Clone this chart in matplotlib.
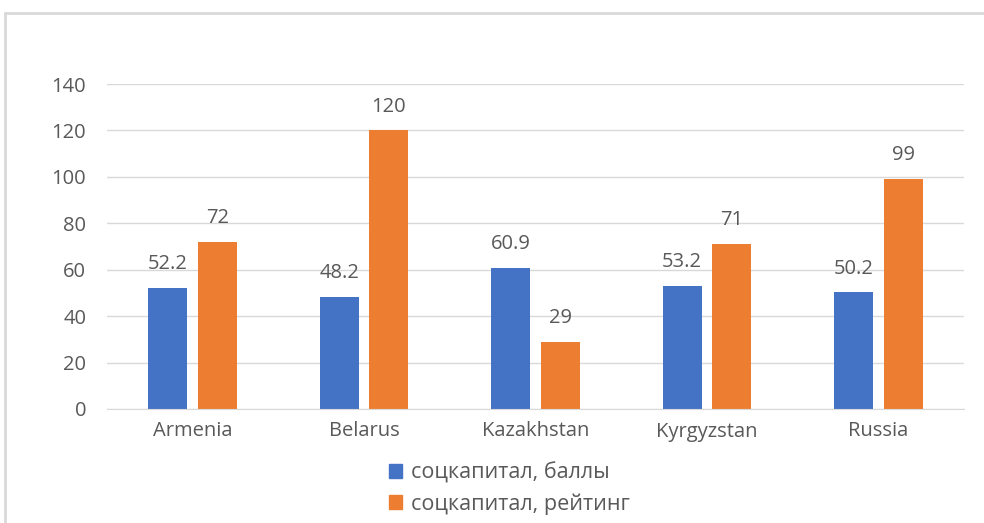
import numpy as np
import matplotlib.pyplot as plt
from matplotlib.patches import Rectangle, Patch

countries = ["Armenia", "Belarus", "Kazakhstan", "Kyrgyzstan", "Russia"]
scores = [52.2, 48.2, 60.9, 53.2, 50.2]
ranks = [72, 120, 29, 71, 99]
score_labels = ["52.2", "48.2", "60.9", "53.2", "50.2"]
rank_labels = ["72", "120", "29", "71", "99"]
series_names = ["соцкапитал, баллы", "соцкапитал, рейтинг"]

blue = "#4472C4"
orange = "#ED7D31"
gray = "#595959"
fs = 14.5

plt.rcParams['font.family'] = ['Open Sans', 'DejaVu Sans']

fig = plt.figure(figsize=(9.84, 5.23), dpi=100)
W, H = 984, 523
ax = fig.add_axes([107 / W, 1 - 409 / H, (964 - 107) / W, (409 - 84) / H])

x = np.arange(len(countries))
bw = 0.227
b1 = ax.bar(x - 0.145, scores, bw, color=blue)
b2 = ax.bar(x + 0.145, ranks, bw, color=orange)

for bars, labels in [(b1, score_labels), (b2, rank_labels)]:
    for rect, lab in zip(bars, labels):
        ax.annotate(lab, (rect.get_x() + rect.get_width() / 2, rect.get_height()),
                    xytext=(0, 10), textcoords="offset points", ha="center", va="bottom",
                    fontsize=fs, color=gray)

ax.set_xlim(-0.5, len(countries) - 0.5)
ax.set_ylim(0, 140)
ax.set_yticks(range(0, 141, 20))
ax.set_xticks(x)
ax.set_xticklabels(countries)
ax.tick_params(axis="both", length=0, labelsize=fs, labelcolor=gray)
ax.tick_params(axis="y", pad=15)
ax.tick_params(axis="x", pad=9)
ax.grid(axis="y", color="#D9D9D9", linewidth=1)
ax.set_axisbelow(True)
for s in ["top", "right", "left"]:
    ax.spines[s].set_visible(False)
ax.spines["bottom"].set_color("#D9D9D9")

handles = [Patch(color=blue), Patch(color=orange)]
fig.legend(handles, series_names, loc="upper left", bbox_to_anchor=(370 / W, 1 - 443 / H),
           frameon=False, fontsize=15.5, labelcolor=gray, handlelength=0.6, handleheight=0.6,
           handletextpad=0.4, labelspacing=0.45)

fig.patches.append(Rectangle((5 / W, -0.1), 1.1, 1 - 13 / H + 0.1, transform=fig.transFigure,
                             fill=False, edgecolor="#D9D9D9", linewidth=2))

fig.savefig("out.png", dpi=100)
